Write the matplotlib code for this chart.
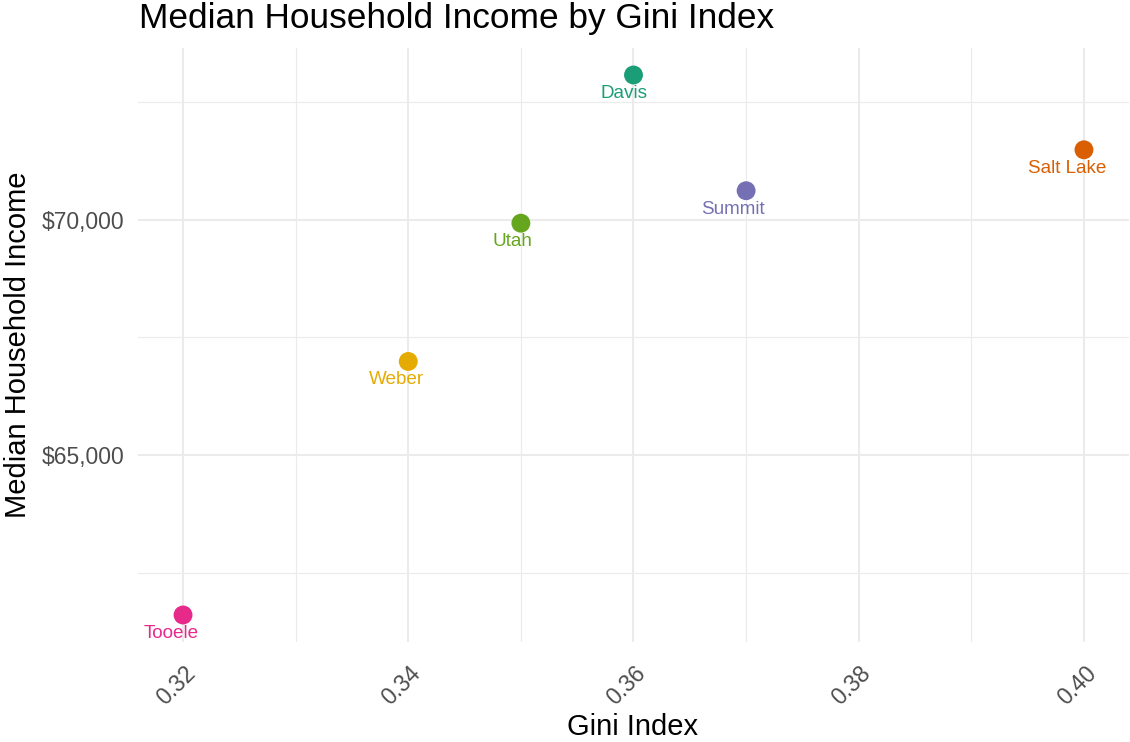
import matplotlib
matplotlib.use('Agg')
import matplotlib.pyplot as plt
import matplotlib.ticker as mtick
from matplotlib.transforms import ScaledTranslation

plt.rcParams['font.family'] = ['Liberation Sans', 'DejaVu Sans']

counties = ['Davis', 'Salt Lake', 'Summit', 'Tooele', 'Utah', 'Weber']
gini = [0.36, 0.40, 0.37, 0.32, 0.35, 0.34]
income = [73080, 71490, 70620, 61600, 69930, 66990]
colors = ['#1B9E77', '#D95F02', '#7570B3', '#E7298A', '#66A61E', '#E6AB02']

x_major = [0.32, 0.34, 0.36, 0.38, 0.40]
x_minor = [0.33, 0.35, 0.37, 0.39]
y_major = [65000, 70000]
y_minor = [62500, 67500, 72500]

W, H = 1130, 742
fig = plt.figure(figsize=(W / 100, H / 100), dpi=100)
ax = fig.add_axes([138 / W, 100 / H, (1129 - 138) / W, (642 - 48) / H])

ax.scatter(gini, income, c=colors, s=185, zorder=3, linewidths=0)

# x/y range with ggplot-like 5% expansion
xr = max(gini) - min(gini)
yr = max(income) - min(income)
ax.set_xlim(min(gini) - 0.05 * xr, max(gini) + 0.05 * xr)
ax.set_ylim(min(income) - 0.05 * yr, max(income) + 0.05 * yr)

ax.set_xticks(x_major)
ax.set_xticks(x_minor, minor=True)
ax.set_yticks(y_major)
ax.set_yticks(y_minor, minor=True)
ax.yaxis.set_major_formatter(mtick.StrMethodFormatter('${x:,.0f}'))
ax.xaxis.set_major_formatter(mtick.FormatStrFormatter('%.2f'))

ax.grid(which='major', color='#EBEBEB', lw=1.5, zorder=0)
ax.grid(which='minor', color='#EBEBEB', lw=0.8, zorder=0)
ax.set_axisbelow(True)
for s in ax.spines.values():
    s.set_visible(False)

ax.tick_params(which='both', length=0)
ax.tick_params(axis='y', labelsize=16.5, labelcolor='#4D4D4D', pad=10)
ax.tick_params(axis='x', labelsize=16.5, labelcolor='#4D4D4D', pad=14)
for lab in ax.get_xticklabels():
    lab.set_rotation(45)
    lab.set_ha('center')
    lab.set_transform(lab.get_transform() + ScaledTranslation(-7 / 100, 0, fig.dpi_scale_trans))

anns = []
for name, gx, gy, c in zip(counties, gini, income, colors):
    a = ax.annotate(name, (gx, gy), xytext=(0, -16.5), textcoords='offset points',
                    ha='center', va='baseline', color=c, fontsize=13.6, zorder=4)
    anns.append(a)

fig.canvas.draw()
r = fig.canvas.get_renderer()
for a in anns:
    w = a.get_window_extent(r).width
    a.xyann = (-0.21 * w * 72 / 100, -16.5)

fig.text(139 / W, 1 - 28 / H, 'Median Household Income by Gini Index',
         fontsize=25.4, ha='left', va='baseline', color='black')
fig.text(18 / W, 1 - 345 / H, 'Median Household Income', fontsize=21,
         rotation=90, ha='center', va='center')
fig.text(633 / W, 7 / H, 'Gini Index', fontsize=21, ha='center', va='baseline')

fig.savefig('out.png', dpi=100)
